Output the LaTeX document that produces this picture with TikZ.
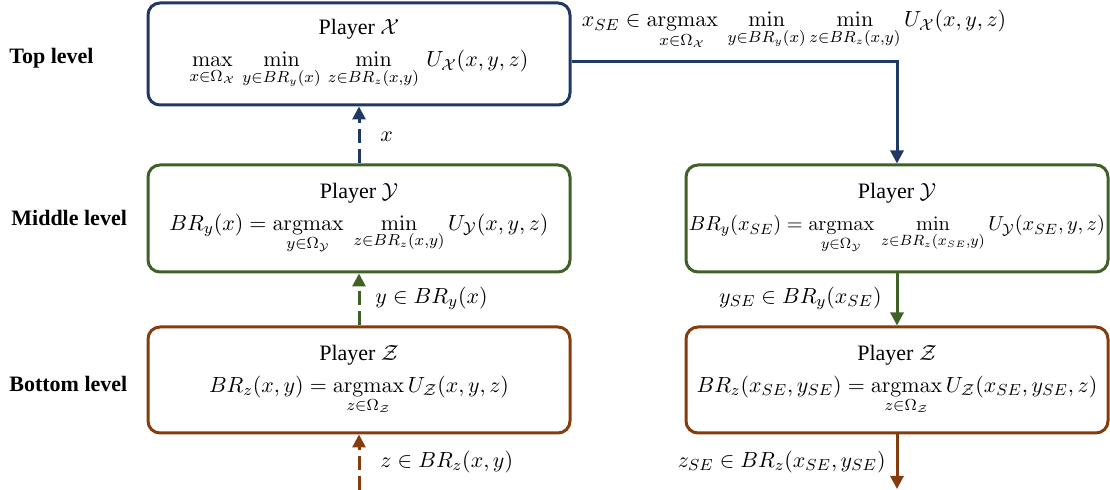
\documentclass[tikz,border=0pt]{standalone}
\usepackage{amsmath}
\usepackage{graphicx}
\usepackage[no-math]{fontspec}
\setmainfont{Liberation Serif}
\usetikzlibrary{arrows.meta}
\definecolor{cblue}{HTML}{1F3864}
\definecolor{cgreen}{HTML}{3F6127}
\definecolor{cbrown}{HTML}{843C0C}
\tikzset{
  box/.style={draw, line width=1.5pt, rounded corners=6pt, minimum width=211pt, align=center, inner sep=0pt},
  lvl/.style={anchor=west, inner sep=0pt, font=\fontsize{11}{13}\selectfont\bfseries},
  conn/.style={line width=1.5pt, -{Triangle[length=6.5pt,width=6.5pt]}},
  dconn/.style={conn, dash pattern=on 7pt off 3pt},
  lab/.style={inner sep=0pt}
}
\begin{document}
\begin{tikzpicture}[x=0.5pt,y=-0.5pt,font=\fontsize{11}{13}\selectfont]
\useasboundingbox (0,0) rectangle (1110,490);
% level labels
\node[lvl] (ltop) at (9,58) {Top level};
\node[lvl] (lmid) at (11,218) {Middle level};
\node[lvl] (lbot) at (9,384) {Bottom level};
% boxes
\node[box, draw=cblue, minimum height=51pt] (top) at (359,54)
  {Player $\mathcal{X}$\\[3pt]
   $\displaystyle\max_{x\in\Omega_{\mathcal X}}\,\min_{y\in BR_y(x)}\,\min_{z\in BR_z(x,y)}\,U_{\mathcal X}(x,y,z)$};
\node[box, draw=cgreen, minimum height=53.5pt] (mid) at (359,218.5)
  {Player $\mathcal{Y}$\\[3pt]
   $\displaystyle BR_y(x)=\operatorname*{argmax}_{y\in\Omega_{\mathcal Y}}\;\min_{z\in BR_z(x,y)}U_{\mathcal Y}(x,y,z)$};
\node[box, draw=cbrown, minimum height=53pt] (bot) at (359,380)
  {Player $\mathcal{Z}$\\[3pt]
   $\displaystyle BR_z(x,y)=\operatorname*{argmax}_{z\in\Omega_{\mathcal Z}}U_{\mathcal Z}(x,y,z)$};
\node[box, draw=cgreen, minimum height=53.5pt] (rmid) at (897,218.5)
  {Player $\mathcal{Y}$\\[3pt]
   \resizebox{208pt}{!}{$\displaystyle BR_y(x_{SE})=\operatorname*{argmax}_{y\in\Omega_{\mathcal Y}}\,\min_{z\in BR_z(x_{SE},y)}U_{\mathcal Y}(x_{SE},y,z)$}};
\node[box, draw=cbrown, minimum height=53pt] (rbot) at (897,380)
  {Player $\mathcal{Z}$\\[3pt]
   $\displaystyle BR_z(x_{SE},y_{SE})=\operatorname*{argmax}_{z\in\Omega_{\mathcal Z}}U_{\mathcal Z}(x_{SE},y_{SE},z)$};
% free ends
\coordinate (lin) at (359,490);
\coordinate (rout) at (897,489);
% left connectors (dashed, upward)
\draw[dconn, draw=cblue] (mid.north) -- (top.south);
\draw[dconn, draw=cgreen] (bot.north) -- (mid.south);
\draw[dconn, draw=cbrown] (lin) -- (bot.south);
% right connectors (solid, downward)
\draw[conn, draw=cblue] ([yshift=-4pt]top.east) -| (rmid.north);
\draw[conn, draw=cgreen] (rmid.south) -- (rbot.north);
\draw[conn, draw=cbrown] (rbot.south) -- (rout);
% connector labels
\node[lab, anchor=west] (lx) at (380,137) {$x$};
\node[lab, anchor=west] (ly) at (375,298) {$y\in BR_y(x)$};
\node[lab, anchor=west] (lz) at (380,462) {$z\in BR_z(x,y)$};
\node[lab] (lxse) at (794,30)
  {$\displaystyle x_{SE}\in\operatorname*{argmax}_{x\in\Omega_{\mathcal X}}\;\min_{y\in BR_y(x)}\min_{z\in BR_z(x,y)}U_{\mathcal X}(x,y,z)$};
\node[lab, anchor=east] (lyse) at (882,298) {$y_{SE}\in BR_y(x_{SE})$};
\node[lab, anchor=east] (lzse) at (886,462) {$z_{SE}\in BR_z(x_{SE},y_{SE})$};
\end{tikzpicture}
\end{document}
